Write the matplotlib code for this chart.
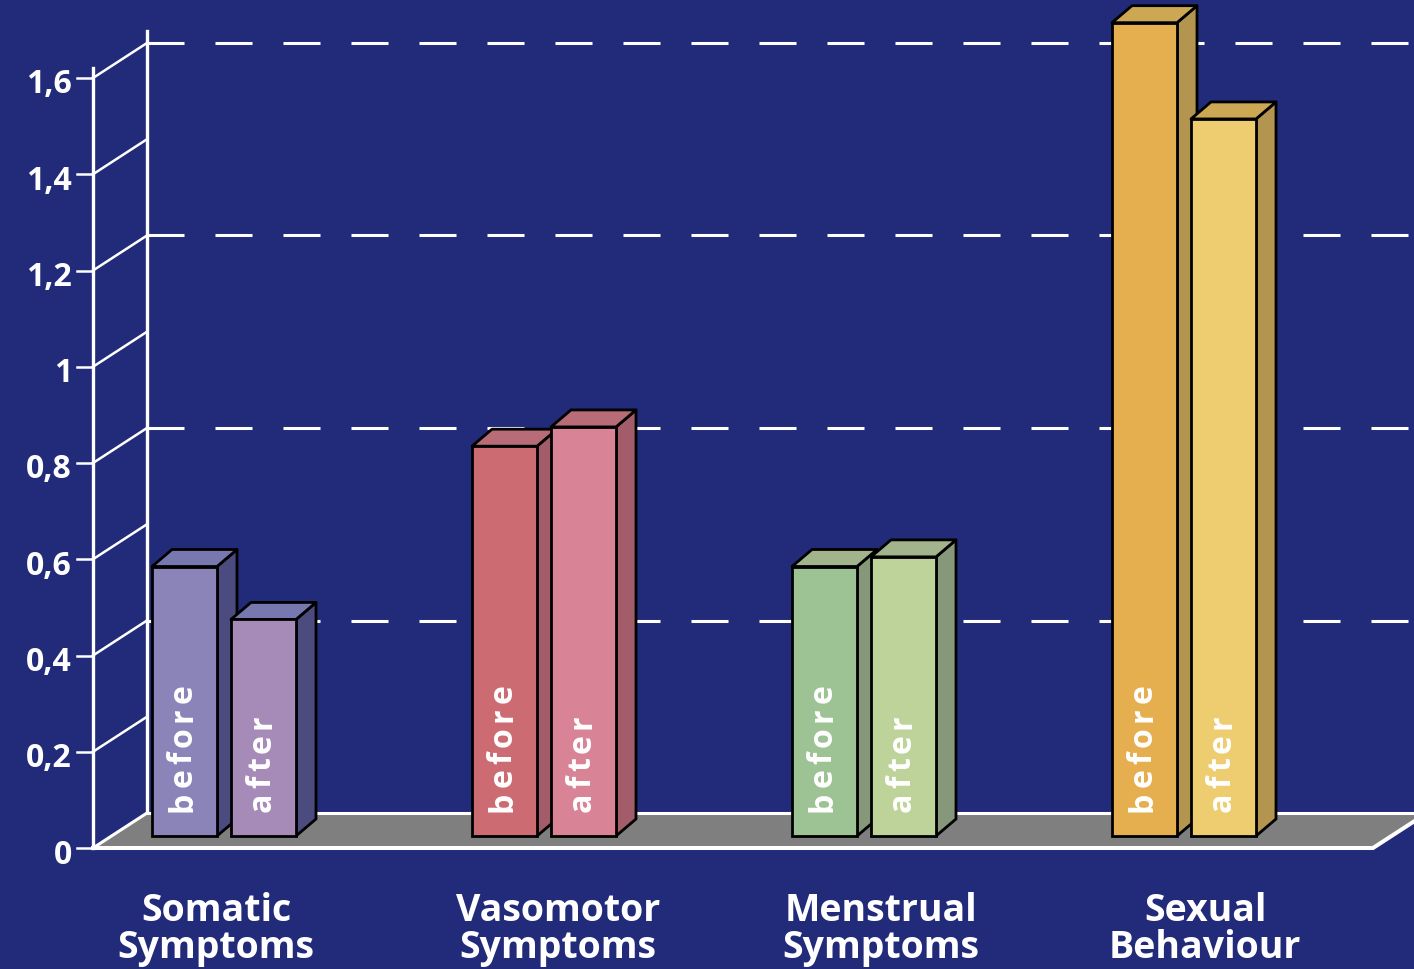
import matplotlib.pyplot as plt
from matplotlib.patches import Polygon
from matplotlib.textpath import TextToPath
from matplotlib.font_manager import FontProperties
from matplotlib.transforms import offset_copy

# data
categories = ["Somatic\nSymptoms", "Vasomotor\nSymptoms", "Menstrual\nSymptoms", "Sexual\nBehaviour"]
before = [0.56, 0.81, 0.56, 1.69]
after = [0.45, 0.85, 0.58, 1.49]
ticks = [0, 0.2, 0.4, 0.6, 0.8, 1.0, 1.2, 1.4, 1.6]
tick_labels = ["0", "0,2", "0,4", "0,6", "0,8", "1", "1,2", "1,4", "1,6"]
grid_ticks = [0.4, 0.8, 1.2, 1.6]

before_colors = ["#8A84B8", "#CD6B72", "#9DC394", "#E5AE4E"]
after_colors = ["#A68AB8", "#D88496", "#BED39A", "#EECC70"]
side_colors = ["#4B4B80", "#A35D6A", "#87977A", "#B39550"]
top_colors = ["#7878B0", "#B86C78", "#A2B48C", "#CCA855"]
label_nudge = [-0.025, 0.044, 0.053, 0.066]

BG = "#222B7A"
PX_X = 320.0     # pixels per category step
PX_Y = 481.25    # pixels per value unit

fig = plt.figure(figsize=(14.14, 9.69), dpi=100, facecolor=BG)
ax = fig.add_axes([0, 0, 1, 1])
ax.set_facecolor(BG)
ax.set_xlim(-224 / PX_X, (1414 - 224) / PX_X)
ax.set_ylim(-(969 - 848) / PX_Y, 848 / PX_Y)
ax.axis("off")

xmax = ax.get_xlim()[1]
fx0 = (93 - 224) / PX_X          # front axis
fx1 = (1373 - 224) / PX_X        # floor front right corner
wdx, wdy = 54 / PX_X, 35 / PX_Y  # wall depth
bdx, bdy = 20 / PX_X, 17 / PX_Y  # bar depth
base = 12 / PX_Y
width = 65 / PX_X
off = 39.5 / PX_X

# floor
ax.add_patch(Polygon([(fx0, 0), (fx1, 0), (fx1 + wdx, wdy), (fx0 + wdx, wdy)],
                     closed=True, facecolor="#7F7F7F", edgecolor="none", zorder=1.5))
ax.plot([fx0 + wdx, xmax + 0.2], [wdy, wdy], color="white", lw=2.2, zorder=1.6)
ax.plot([fx0, fx1, fx1 + wdx], [0, 0, wdy], color="white", lw=2.9, zorder=1.6,
        solid_joinstyle="miter")
ax.plot([fx0, fx0 + wdx], [0, wdy], color="white", lw=2.2, zorder=1.6)

# walls
ax.plot([fx0, fx0], [0, 1.62], color="white", lw=2.4, zorder=1.6)
ax.plot([fx0 + wdx, fx0 + wdx], [wdy, 1.697], color="white", lw=2.4, zorder=1.2)

for t, lab in zip(ticks, tick_labels):
    if t > 0:
        ax.plot([fx0, fx0 + wdx], [t, t + wdy], color="white", lw=1.8, zorder=1.2)
    ax.plot([fx0 - 16 / PX_X, fx0], [t, t], color="white", lw=1.8, zorder=1.6)
    ax.text(fx0 - 21 / PX_X, t - 7 / PX_Y, lab, color="white", fontsize=23,
            family="Open Sans", weight="bold", ha="right", va="center")

lw = 2.2
for t in grid_ticks:
    ax.plot([fx0 + wdx, xmax + 0.2], [t + wdy, t + wdy], color="white", lw=lw,
            dashes=(37 * 0.72 / lw, 31 * 0.72 / lw), zorder=1.1)


def box(x, h, front, side, top, z):
    x0, x1 = x - width / 2, x + width / 2
    y1 = base + h
    ax.add_patch(Polygon([(x1, base), (x1 + bdx, base + bdy), (x1 + bdx, y1 + bdy), (x1, y1)],
                         closed=True, facecolor=side, edgecolor="black", lw=2, zorder=z,
                         joinstyle="round"))
    ax.add_patch(Polygon([(x0, y1), (x0 + bdx, y1 + bdy), (x1 + bdx, y1 + bdy), (x1, y1)],
                         closed=True, facecolor=top, edgecolor="black", lw=2, zorder=z,
                         joinstyle="round"))
    ax.bar(x, h, width=width, bottom=base, color=front, edgecolor="black", lw=2,
           zorder=z + 0.1)


fp = FontProperties(family="Open Sans", weight="bold", size=23)
t2p = TextToPath()


def spaced_text(x, y, s, tracking=4.6):
    pos = 0.0
    for ch in s:
        tr = offset_copy(ax.transData, fig=fig, x=0, y=pos, units="dots")
        ax.text(x, y, ch, transform=tr, color="white", fontproperties=fp,
                rotation=90, rotation_mode="anchor", ha="left", va="baseline", zorder=10)
        w, _, _ = t2p.get_text_width_height_descent(ch, fp, ismath=False)
        pos += w * 100 / 72 + tracking


for i in range(len(categories)):
    box(i - off, before[i], before_colors[i], side_colors[i], top_colors[i], 3)
    box(i + off, after[i], after_colors[i], side_colors[i], top_colors[i], 4)
    spaced_text(i - off + 7 / PX_X, 36 / PX_Y, "before")
    spaced_text(i + off + 7 / PX_X, 36 / PX_Y, "after")
    ax.text(i + label_nudge[i], -44 / PX_Y, categories[i], color="white", fontsize=27,
            family="Open Sans", weight="bold", ha="center", va="top", linespacing=0.95)

fig.savefig("out.png", dpi=100, facecolor=BG)
